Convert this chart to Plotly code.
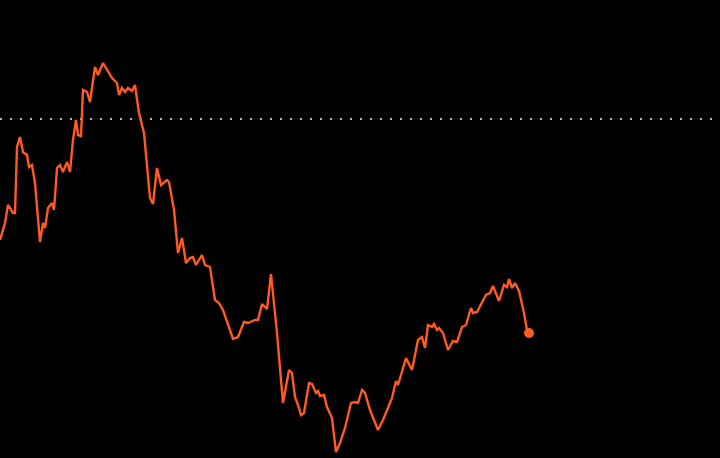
import plotly.graph_objects as go

# x = trading-day position, y = price level (arbitrary units)
days = [0, 5, 8, 13, 15, 17, 20, 23, 27, 29, 32, 35, 40, 43, 45, 48, 52, 54, 57, 60,
        63, 67, 70, 73, 76, 78, 81, 83, 87, 90, 95, 98, 103, 106, 112, 117, 119, 122, 125, 128,
        132, 135, 139, 144, 150, 153, 157, 161, 167, 169, 174, 178, 182, 186, 190, 193, 196, 202, 205, 210,
        215, 219, 223, 233, 238, 244, 248, 255, 258, 262, 267, 271, 277, 283, 289, 292, 295, 298, 301, 304,
        309, 312, 316, 318, 320, 324, 327, 332, 336, 340, 345, 351, 355, 358, 362, 365, 370, 378, 383, 390,
        392, 396, 398, 406, 412, 418, 422, 425, 428, 432, 434, 437, 439, 443, 448, 453, 457, 462, 466, 471,
        473, 477, 482, 486, 490, 493, 499, 504, 507, 509, 512, 515, 519, 524, 527, 529]
pixel_levels = [240, 223, 205, 213, 213, 147, 137, 152, 155, 167, 165, 183, 242, 223, 228, 208, 203, 210, 168, 165,
                172, 162, 172, 140, 120, 135, 136, 90, 92, 102, 67, 75, 63, 68, 78, 83, 95, 88, 92, 88,
                91, 85, 113, 133, 198, 204, 168, 185, 180, 182, 210, 253, 238, 263, 258, 257, 265, 255, 265, 267,
                300, 303, 310, 339, 337, 322, 323, 320, 320, 304, 309, 274, 333, 403, 370, 373, 397, 405, 415, 413,
                383, 384, 393, 391, 396, 395, 407, 418, 452, 443, 428, 403, 402, 403, 390, 393, 410, 430, 420, 403,
                398, 381, 385, 358, 370, 340, 337, 348, 325, 327, 324, 330, 328, 333, 350, 341, 342, 327, 325, 308,
                313, 312, 302, 295, 293, 286, 301, 285, 287, 279, 288, 283, 291, 313, 330, 333]
price = [458 - p for p in pixel_levels]
reference_level = 458 - 119

LINE_COLOR = "#ff5a1f"

fig = go.Figure()
fig.add_trace(go.Scatter(x=days, y=price, mode="lines",
                         line=dict(color=LINE_COLOR, width=2.4), hoverinfo="skip"))
fig.add_trace(go.Scatter(x=[days[-1]], y=[price[-1]], mode="markers",
                         marker=dict(color=LINE_COLOR, size=10), hoverinfo="skip"))
fig.add_shape(type="line", xref="paper", x0=0, x1=1, yref="y",
              y0=reference_level, y1=reference_level,
              line=dict(color="#b5b5b5", width=2, dash="2px,8px"), layer="below")

fig.update_layout(
    width=720, height=458,
    margin=dict(l=0, r=0, t=0, b=0),
    paper_bgcolor="black", plot_bgcolor="black",
    showlegend=False,
    xaxis=dict(range=[0, 720], visible=False, fixedrange=True),
    yaxis=dict(range=[0, 458], visible=False, fixedrange=True),
)
fig.write_html(
    "out.html",
    config={"displayModeBar": False},
    post_script="document.body.style.margin='0';document.body.style.background='black';document.body.style.overflow='hidden';",
)
